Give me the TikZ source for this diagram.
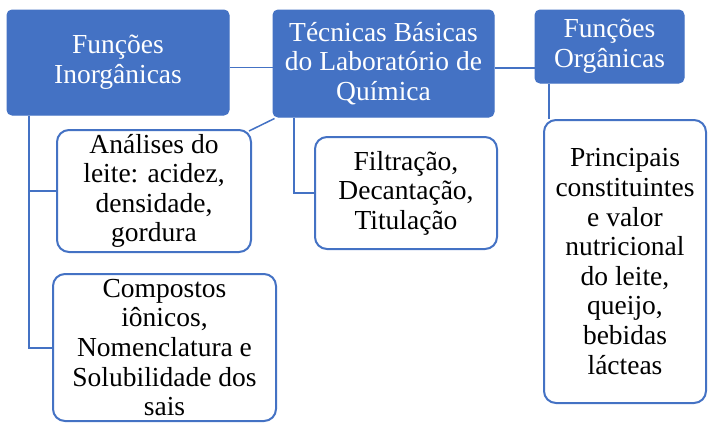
\documentclass[tikz,border=0pt]{standalone}
\usepackage{fontspec}
\setmainfont{Liberation Serif}
\definecolor{wblue}{HTML}{4472C4}
\begin{document}
\begin{tikzpicture}[x=1pt,y=-1pt,
  every node/.style={inner sep=0pt,align=center,font=\fontsize{27.5}{29.6}\selectfont},
  bluebox/.style={draw=wblue,fill=wblue,text=white,rounded corners=5pt,line width=1pt},
  whitebox/.style={draw=wblue,fill=white,text=black,rounded corners=12pt,line width=2pt},
  conn/.style={draw=wblue,line width=2pt},
  thinconn/.style={draw=wblue,line width=1.5pt}]
\useasboundingbox (0,0) rectangle (708,423);
\node[bluebox,minimum width=222pt,minimum height=105pt] (b1) at (118,62.5) {Funções\\Inorgânicas};
\node[bluebox,minimum width=221pt,minimum height=107pt] (b2) at (383.5,63.5) {Técnicas Básicas\\do Laboratório de\\Química};
\node[bluebox,minimum width=149pt,minimum height=73pt] (b3) at (609.5,46.5) {Funções\\Orgânicas};
\node[whitebox,minimum width=194pt,minimum height=122pt] (b4) at (154,191) {Análises do\\leite: acidez,\\densidade,\\gordura};
\node[whitebox,minimum width=182pt,minimum height=112pt] (b5) at (406,193) {Filtração,\\Decantação,\\Titulação};
\node[whitebox,minimum width=223pt,minimum height=147pt] (b6) at (164.5,347.5) {Compostos\\iônicos,\\Nomenclatura e\\Solubilidade dos\\sais};
\node[whitebox,minimum width=162pt,minimum height=283pt] (b7) at (625,261.5) {Principais\\constituintes\\e valor\\nutricional\\do leite,\\queijo,\\bebidas\\lácteas};
\coordinate (p1) at ([xshift=22pt]b1.south west);
\coordinate (p2) at ([xshift=21pt]b2.south west);
\coordinate (p3) at ([xshift=14pt]b3.south west);
\begin{scope}[on background layer/.style={}]
\end{scope}
\draw[thinconn] ([yshift=-5pt]b1.east) -- ([yshift=-5pt]b1.east -| b2.west);
\draw[thinconn] ([yshift=-4.5pt]b2.east) -- ([yshift=-4.5pt]b2.east -| b3.west);
\draw[thinconn] ([shift={(2pt,-1pt)}]b2.south west) -- ([shift={(-3pt,-2pt)}]b4.north east);
\draw[conn] (p2) |- (b5.west);
\draw[conn] (p1) |- (b4.west);
\draw[conn] (p1) |- (b6.west);
\draw[conn] (p3) -- (p3 |- b7.north);
\end{tikzpicture}
\end{document}
